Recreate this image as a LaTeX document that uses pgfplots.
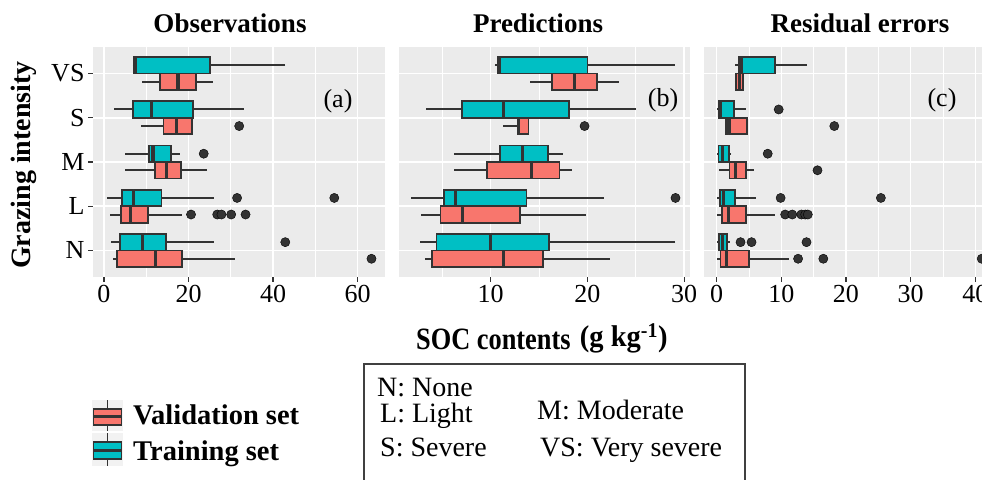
\documentclass[border=0pt]{standalone}
\usepackage{pgfplots}
\pgfplotsset{compat=1.18}
\usepgfplotslibrary{statistics}
\usepackage{fontspec}
\setmainfont{Liberation Serif}
\newfontfamily\narrowserif[FakeStretch=0.85]{Liberation Serif}
\newfontfamily\wideserif[FakeStretch=0.95]{Liberation Serif}
\definecolor{tcyan}{HTML}{00BFC4}
\definecolor{vred}{HTML}{F8766D}
\definecolor{boxline}{HTML}{333333}
\definecolor{panelbg}{HTML}{EBEBEB}
\definecolor{keybg}{HTML}{F2F2F2}
\pgfplotsset{
  ggaxis/.style={
    scale only axis, width=291pt, height=230pt, anchor=south west,
    axis background/.style={fill=panelbg},
    axis line style={draw=none},
    boxplot/draw direction=x,
    ymin=0.4, ymax=5.6, ytick={1,2,3,4,5},
    ymajorgrids, xmajorgrids, xminorgrids,
    major grid style={white, line width=1.5pt},
    minor grid style={white, line width=0.7pt},
    tick align=outside, major tick length=5pt, minor tick length=0pt,
    tick style={draw=boxline, line width=1.2pt},
    xtick pos=left, ytick pos=left,
    ticklabel style={font=\fontsize{26}{26}\selectfont},
    /pgf/number format/assume math mode=true,
    boxplot/box extend=0.375,
    boxplot/whisker extend=0,
    boxplot/every median/.style={line width=3.2pt},
    boxplot/every whisker/.style={draw=boxline, line width=2pt},
    boxplot/every box/.style={line width=1.8pt},
  },
  tr/.style={fill=tcyan, draw=boxline, line width=1.8pt},
  va/.style={fill=vred, draw=boxline, line width=1.8pt},
  outl/.style={only marks, mark=*, mark size=4.6pt, mark options={fill=boxline, draw=none}},
}
\begin{document}
\begin{tikzpicture}
\useasboundingbox (0pt,0pt) rectangle (982pt,479pt);
\clip (0pt,0pt) rectangle (982pt,479pt);

% ---------------- Panel (a) Observations
\begin{axis}[ggaxis, at={(93pt,202pt)}, width=292pt,
  xmin=-2.6, xmax=66.5, xtick={0,20,40,60}, minor xtick={10,30,50},
  yticklabels={N,L,M,S,VS}]
% training
\addplot[tr, boxplot prepared={draw position=5.1875, lower whisker=6.8, lower quartile=7.0, median=7.5, upper quartile=25.0, upper whisker=42.9}] coordinates {};
\addplot[tr, boxplot prepared={draw position=4.1875, lower whisker=2.4, lower quartile=6.9, median=11.2, upper quartile=21.1, upper whisker=33.1}] coordinates {};
\addplot[tr, boxplot prepared={draw position=3.1875, lower whisker=5.0, lower quartile=10.6, median=11.6, upper quartile=15.8, upper whisker=17.9}] coordinates {};
\addplot[tr, boxplot prepared={draw position=2.1875, lower whisker=0.7, lower quartile=4.3, median=7.0, upper quartile=13.6, upper whisker=26.0}] coordinates {};
\addplot[tr, boxplot prepared={draw position=1.1875, lower whisker=1.6, lower quartile=3.7, median=9.2, upper quartile=14.6, upper whisker=26.0}] coordinates {};
% validation
\addplot[va, boxplot prepared={draw position=4.8125, lower whisker=9.1, lower quartile=13.3, median=17.5, upper quartile=21.7, upper whisker=25.7}] coordinates {};
\addplot[va, boxplot prepared={draw position=3.8125, lower whisker=8.7, lower quartile=14.1, median=17.1, upper quartile=20.8, upper whisker=20.8}] coordinates {};
\addplot[va, boxplot prepared={draw position=2.8125, lower whisker=5.0, lower quartile=12.0, median=14.8, upper quartile=18.3, upper whisker=24.4}] coordinates {};
\addplot[va, boxplot prepared={draw position=1.8125, lower whisker=1.5, lower quartile=4.1, median=6.3, upper quartile=10.5, upper whisker=18.5}] coordinates {};
\addplot[va, boxplot prepared={draw position=0.8125, lower whisker=2.1, lower quartile=3.1, median=12.2, upper quartile=18.5, upper whisker=30.9}] coordinates {};
% outliers
\addplot[outl] coordinates {(23.6,3.1875) (31.5,2.1875) (54.5,2.1875) (42.9,1.1875)
  (32.0,3.8125) (20.6,1.8125) (26.8,1.8125) (27.8,1.8125) (30.1,1.8125) (33.5,1.8125) (63.3,0.8125)};
\end{axis}

% ---------------- Panel (b) Predictions
\begin{axis}[ggaxis, at={(399pt,202pt)},
  xmin=0.52, xmax=30.6, xtick={10,20,30}, minor xtick={5,15,25},
  yticklabels={}, ymajorticks=false]
\addplot[tr, boxplot prepared={draw position=5.1875, lower whisker=10.4, lower quartile=10.7, median=10.9, upper quartile=20.0, upper whisker=29.0}] coordinates {};
\addplot[tr, boxplot prepared={draw position=4.1875, lower whisker=3.3, lower quartile=7.0, median=11.3, upper quartile=18.1, upper whisker=25.0}] coordinates {};
\addplot[tr, boxplot prepared={draw position=3.1875, lower whisker=6.2, lower quartile=11.0, median=13.3, upper quartile=15.9, upper whisker=17.5}] coordinates {};
\addplot[tr, boxplot prepared={draw position=2.1875, lower whisker=1.8, lower quartile=5.2, median=6.4, upper quartile=13.7, upper whisker=21.7}] coordinates {};
\addplot[tr, boxplot prepared={draw position=1.1875, lower whisker=2.7, lower quartile=4.4, median=10.0, upper quartile=16.0, upper whisker=29.1}] coordinates {};
\addplot[va, boxplot prepared={draw position=4.8125, lower whisker=14.1, lower quartile=16.3, median=18.7, upper quartile=21.0, upper whisker=23.3}] coordinates {};
\addplot[va, boxplot prepared={draw position=3.8125, lower whisker=11.3, lower quartile=12.8, median=12.9, upper quartile=13.9, upper whisker=13.9}] coordinates {};
\addplot[va, boxplot prepared={draw position=2.8125, lower whisker=6.2, lower quartile=9.6, median=14.2, upper quartile=17.1, upper whisker=18.4}] coordinates {};
\addplot[va, boxplot prepared={draw position=1.8125, lower whisker=2.8, lower quartile=4.8, median=7.1, upper quartile=13.0, upper whisker=19.8}] coordinates {};
\addplot[va, boxplot prepared={draw position=0.8125, lower whisker=3.2, lower quartile=3.9, median=11.3, upper quartile=15.4, upper whisker=22.3}] coordinates {};
\addplot[outl] coordinates {(29.1,2.1875) (19.7,3.8125)};
\end{axis}

% ---------------- Panel (c) Residual errors
\begin{axis}[ggaxis, at={(704pt,202pt)},
  xmin=-1.95, xmax=43.05, xtick={0,10,20,30,40}, minor xtick={5,15,25,35},
  yticklabels={}, ymajorticks=false]
\addplot[tr, boxplot prepared={draw position=5.1875, lower whisker=2.9, lower quartile=3.4, median=3.8, upper quartile=9.0, upper whisker=14.0}] coordinates {};
\addplot[tr, boxplot prepared={draw position=4.1875, lower whisker=0.1, lower quartile=0.3, median=0.6, upper quartile=2.7, upper whisker=4.5}] coordinates {};
\addplot[tr, boxplot prepared={draw position=3.1875, lower whisker=0.1, lower quartile=0.3, median=0.9, upper quartile=1.9, upper whisker=2.3}] coordinates {};
\addplot[tr, boxplot prepared={draw position=2.1875, lower whisker=0.1, lower quartile=0.5, median=1.1, upper quartile=2.8, upper whisker=6.1}] coordinates {};
\addplot[tr, boxplot prepared={draw position=1.1875, lower whisker=0.1, lower quartile=0.4, median=0.9, upper quartile=1.6, upper whisker=2.0}] coordinates {};
\addplot[va, boxplot prepared={draw position=4.8125, lower whisker=2.8, lower quartile=3.0, median=3.6, upper quartile=4.1, upper whisker=4.2}] coordinates {};
\addplot[va, boxplot prepared={draw position=3.8125, lower whisker=1.4, lower quartile=1.5, median=1.9, upper quartile=4.7, upper whisker=4.7}] coordinates {};
\addplot[va, boxplot prepared={draw position=2.8125, lower whisker=0.3, lower quartile=2.0, median=2.9, upper quartile=4.6, upper whisker=5.8}] coordinates {};
\addplot[va, boxplot prepared={draw position=1.8125, lower whisker=0.1, lower quartile=0.8, median=1.8, upper quartile=4.6, upper whisker=9.0}] coordinates {};
\addplot[va, boxplot prepared={draw position=0.8125, lower whisker=0.1, lower quartile=0.6, median=1.5, upper quartile=5.0, upper whisker=11.2}] coordinates {};
\addplot[outl] coordinates {(9.6,4.1875) (7.9,3.1875) (9.9,2.1875) (25.4,2.1875) (3.7,1.1875) (5.4,1.1875) (13.9,1.1875)
  (18.2,3.8125) (15.6,2.8125) (10.6,1.8125) (11.7,1.8125) (13.1,1.8125) (13.7,1.8125) (14.1,1.8125) (12.6,0.8125) (16.5,0.8125) (41.0,0.8125)};
\end{axis}

\begin{scope}[x=1pt, y=1pt]
% titles and labels
\node[anchor=base, font=\bfseries\fontsize{27}{27}\selectfont] at (230,446) {Observations};
\node[anchor=base, font=\bfseries\fontsize{27}{27}\selectfont] at (538,446) {Predictions};
\node[anchor=base, font=\bfseries\fontsize{27}{27}\selectfont] at (860,446) {Residual errors};
\node[rotate=90, font=\bfseries\fontsize{28}{28}\selectfont] at (24,314) {Grazing intensity};
\node[font=\fontsize{26}{26}\selectfont] at (338,378) {(a)};
\node[font=\fontsize{26}{26}\selectfont] at (663,379) {(b)};
\node[font=\fontsize{26}{26}\selectfont] at (942,379) {(c)};
\node[anchor=base west, inner sep=0pt] at (416,129) {\narrowserif\bfseries\fontsize{31}{31}\selectfont SOC contents\hspace{0.3em}\raisebox{3pt}{\wideserif\bfseries\fontsize{30}{30}\selectfont (g kg\textsuperscript{-1})}};

% left legend
\fill[keybg] (92,48) rectangle (123,79);
\draw[boxline, line width=1.5pt] (107.5,48) -- (107.5,79);
\draw[fill=vred, draw=boxline, line width=1.6pt] (93.5,54) rectangle (121.5,70);
\draw[boxline, line width=3pt] (93.5,62) -- (121.5,62);
\node[anchor=base west, inner sep=0pt, font=\bfseries\fontsize{28.5}{28.5}\selectfont] at (133,54) {Validation set};
\fill[keybg] (92,13) rectangle (123,46);
\draw[boxline, line width=1.5pt] (107.5,13) -- (107.5,46);
\draw[fill=tcyan, draw=boxline, line width=1.6pt] (93.5,20) rectangle (121.5,37);
\draw[boxline, line width=3pt] (93.5,28.5) -- (121.5,28.5);
\node[anchor=base west, inner sep=0pt, font=\bfseries\fontsize{28.5}{28.5}\selectfont] at (133,19) {Training set};

% abbreviations box
\draw[line width=1.3pt, draw=black!75] (364,-10) rectangle (745,115);
\begin{scope}[every node/.style={anchor=base west, inner sep=0pt, font=\fontsize{28}{28}\selectfont}]
\node at (377,82) {N: None};
\node at (380,56) {L: Light};
\node at (380,22) {S: Severe};
\node at (537,59) {M: Moderate};
\node at (540,22) {VS: Very severe};
\end{scope}
\end{scope}
\end{tikzpicture}
\end{document}
